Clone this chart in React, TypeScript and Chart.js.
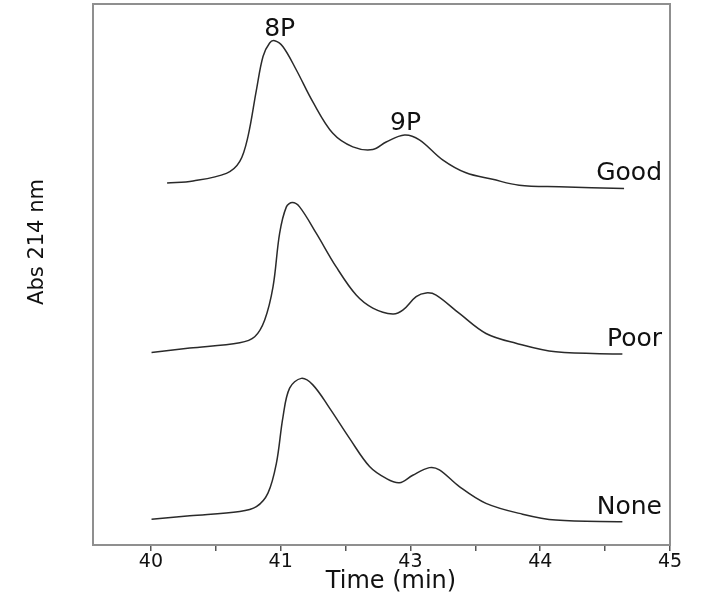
import React, { useEffect, useRef } from "react";
import { Chart, registerables } from "chart.js";

Chart.register(...registerables);

// x positions on the drawn time axis (tick positions 40..44 carry the printed labels below)
const tickValues = [40, 41, 42, 43, 44];
const tickLabels = ["40", "41", "43", "44", "45"];
const seriesNames = ["Good", "Poor", "None"];
const peakLabels = ["8P", "9P"];

const goodX = [40.125, 40.325, 40.582, 40.685, 40.748, 40.813, 40.864, 40.915, 40.954, 41.018, 41.121, 41.248, 41.402, 41.556, 41.71, 41.813, 41.954, 42.069, 42.248, 42.428, 42.633, 42.838, 43.146, 43.646];
const goodY = [66.9, 67.3, 68.7, 70.9, 75.5, 84.1, 90.3, 92.8, 93.2, 92.1, 87.8, 81.9, 76.1, 73.6, 73.1, 74.5, 75.8, 74.9, 71.2, 68.8, 67.6, 66.5, 66.2, 65.9];

const poorX = [40.005, 40.3, 40.685, 40.8, 40.877, 40.941, 40.992, 41.044, 41.09, 41.146, 41.275, 41.428, 41.582, 41.71, 41.864, 41.941, 42.044, 42.121, 42.198, 42.377, 42.582, 42.813, 43.12, 43.633];
const poorY = [35.6, 36.4, 37.4, 38.5, 41.6, 47.7, 57.6, 62.5, 63.3, 62.5, 57.6, 51.4, 46.2, 43.8, 42.7, 43.4, 45.9, 46.6, 46.2, 42.8, 39.1, 37.3, 35.7, 35.3];

const noneX = [40.005, 40.3, 40.685, 40.813, 40.902, 40.967, 41.018, 41.069, 41.159, 41.248, 41.377, 41.531, 41.685, 41.813, 41.915, 42.018, 42.146, 42.223, 42.377, 42.582, 42.864, 43.12, 43.633];
const noneY = [4.75, 5.4, 6.2, 7.1, 9.6, 15.1, 23.7, 29.0, 30.8, 29.6, 25.3, 19.7, 14.5, 12.3, 11.5, 12.9, 14.3, 13.9, 10.8, 7.7, 5.7, 4.6, 4.3];

const FONT = "'DejaVu Sans', Arial, sans-serif";

function pts(xs: number[], ys: number[]) {
  return xs.map((x, i) => ({ x, y: ys[i] }));
}

const decorPlugin = {
  id: "decor",
  afterDatasetsDraw(chart: any) {
    const { ctx, chartArea } = chart;
    const xs = chart.scales.x;
    const ys = chart.scales.y;
    ctx.save();
    // frame
    ctx.strokeStyle = "#8f8f8f";
    ctx.lineWidth = 2;
    ctx.strokeRect(chartArea.left, chartArea.top, chartArea.right - chartArea.left, chartArea.bottom - chartArea.top);

    ctx.fillStyle = "#111";
    // peak labels on the top trace
    const top = chart.data.datasets[0].data as { x: number; y: number }[];
    let iMax = 0;
    top.forEach((p, i) => { if (p.y > top[iMax].y) iMax = i; });
    let iMin = iMax;
    for (let i = iMax; i < top.length - 1 && top[i + 1].y <= top[i].y; i++) iMin = i + 1;
    let i2 = iMin;
    for (let i = iMin; i < top.length; i++) if (top[i].y > top[i2].y) i2 = i;
    ctx.font = `25px ${FONT}`;
    ctx.textAlign = "center";
    ctx.textBaseline = "alphabetic";
    ctx.fillText(peakLabels[0], xs.getPixelForValue(top[iMax].x) + 5, ys.getPixelForValue(top[iMax].y) - 5);
    ctx.fillText(peakLabels[1], xs.getPixelForValue(top[i2].x) + 1, ys.getPixelForValue(top[i2].y) - 5);

    // series names at right ends
    ctx.textAlign = "right";
    chart.data.datasets.forEach((ds: any, k: number) => {
      const last = ds.data[ds.data.length - 1];
      ctx.fillText(seriesNames[k], chartArea.right - 8, ys.getPixelForValue(last.y) - 8);
    });

    // axis titles
    ctx.textAlign = "center";
    ctx.textBaseline = "alphabetic";
    ctx.font = `24px ${FONT}`;
    ctx.fillText("Time (min)", 391, 588);
    ctx.translate(38, 242);
    ctx.rotate(-Math.PI / 2);
    ctx.textBaseline = "middle";
    ctx.font = `21px ${FONT}`;
    ctx.fillText("Abs 214 nm", 0, 0);
    ctx.restore();
  },
};

export default function App() {
  const ref = useRef<HTMLCanvasElement | null>(null);
  useEffect(() => {
    if (!ref.current) return;
    const lineStyle = { borderColor: "#2a2a2a", borderWidth: 1.5, pointRadius: 0, fill: false, tension: 0.35 };
    const chart = new Chart(ref.current, {
      type: "line",
      data: {
        datasets: [
          { label: seriesNames[0], data: pts(goodX, goodY), ...lineStyle },
          { label: seriesNames[1], data: pts(poorX, poorY), ...lineStyle },
          { label: seriesNames[2], data: pts(noneX, noneY), ...lineStyle },
        ],
      },
      options: {
        animation: false,
        responsive: false,
        maintainAspectRatio: false,
        layout: { padding: { left: 93, right: 35, top: 4, bottom: 0 } },
        plugins: { legend: { display: false }, tooltip: { enabled: false } },
        scales: {
          x: {
            type: "linear",
            min: 39.554,
            max: 44,
            afterBuildTicks: (scale: any) => {
              const t: any[] = [];
              for (let v = 40; v <= 44.001; v += 0.5) t.push({ value: v });
              scale.ticks = t;
            },
            afterFit: (scale: any) => { scale.height = 56; },
            ticks: {
              autoSkip: false,
              maxRotation: 0,
              padding: 0,
              color: "#111",
              font: { family: FONT, size: 19 },
              callback: (v: any) => {
                const i = tickValues.indexOf(Number(v));
                return i >= 0 ? tickLabels[i] : "";
              },
            },
            grid: { drawOnChartArea: false, drawTicks: true, tickLength: 6, color: "#555", lineWidth: 1.5 },
            border: { display: false },
          },
          y: {
            display: false,
            min: 0,
            max: 100,
          },
        },
      },
      plugins: [decorPlugin],
    });
    return () => chart.destroy();
  }, []);
  return (
    <div style={{ position: "absolute", left: 0, top: 0, width: 705, height: 601, background: "#fff" }}>
      <canvas ref={ref} width={705} height={601} style={{ width: 705, height: 601 }} />
    </div>
  );
}
